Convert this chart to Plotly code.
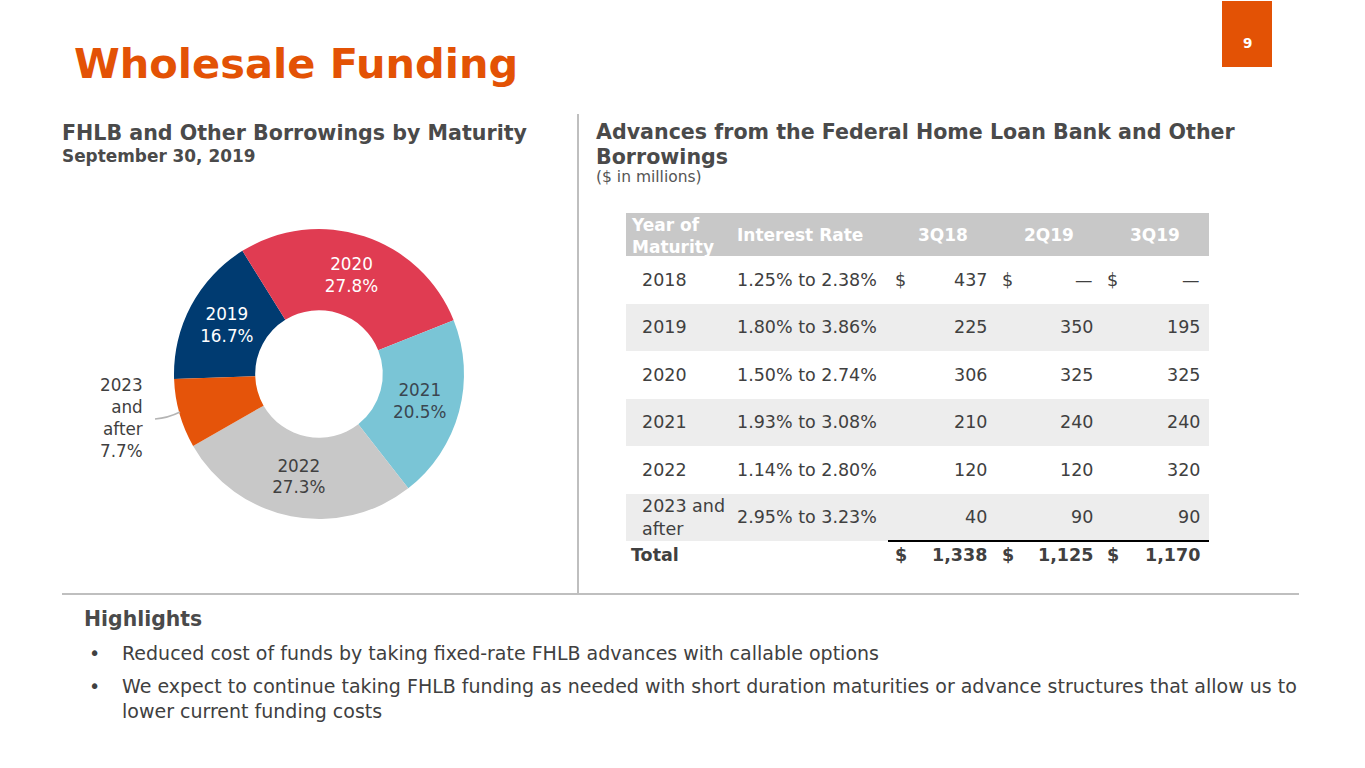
import plotly.graph_objects as go

OFF = 0
W, H = 1365, 768
FONT = "DejaVu Sans"
ORANGE = "#E35205"
DARK = "#4a4a4a"
TEXT = "#404040"

# ---- donut data ----
pie_labels = ["2019", "2020", "2021", "2022", "2023 and after"]
pie_values = [16.7, 27.8, 20.5, 27.3, 7.7]
pie_colors = ["#003B71", "#E03C52", "#7AC5D6", "#C8C8C8", "#E5540A"]
pie_text_colors = ["white", "white", "#3a4650", "#404040", "#404040"]

# ---- table data ----
years = ["2018", "2019", "2020", "2021", "2022", "2023 and<br>after"]
rates = ["1.25% to 2.38%", "1.80% to 3.86%", "1.50% to 2.74%", "1.93% to 3.08%",
         "1.14% to 2.80%", "2.95% to 3.23%"]
quarters = ["3Q18", "2Q19", "3Q19"]
q3_18 = ["437", "225", "306", "210", "120", "40"]
q2_19 = ["—", "350", "325", "240", "120", "90"]
q3_19 = ["—", "195", "325", "240", "320", "90"]
totals = ["1,338", "1,125", "1,170"]
header_year = "Year of<br>Maturity"
header_rate = "Interest Rate"


def px(x):
    return (x - OFF) / W


def py(y):
    return 1 - (y - OFF) / H


fig = go.Figure()

pie_text = ["%s<br>%.1f%%" % (l, v) for l, v in zip(pie_labels, pie_values)]
fig.add_trace(go.Pie(
    labels=pie_labels, values=pie_values, text=pie_text,
    textinfo="text", sort=False, direction="clockwise", rotation=-92,
    hole=0.44,
    marker=dict(colors=pie_colors, line=dict(width=0)),
    textposition=["inside", "inside", "inside", "inside", "none"],
    insidetextorientation="horizontal",
    textfont=dict(family=FONT, size=16.8, color=pie_text_colors),
    domain=dict(x=[px(319 - 145), px(319 + 145)], y=[py(374 + 145), py(374 - 145)]),
    showlegend=False, hoverinfo="skip",
))

# ---- table on its own hidden axes (units: pixels inside the table box) ----
TX0, TX1, TY0 = 626, 1209, 213
HEAD_H, ROW_H, TOTAL_H = 43, 47.5, 48
n = len(years)
table_h = HEAD_H + n * ROW_H + TOTAL_H
row_centers = [HEAD_H + ROW_H * (i + 0.5) for i in range(n)]
total_top = HEAD_H + n * ROW_H

band_y = [HEAD_H / 2] + row_centers
band_w = [HEAD_H] + [ROW_H] * n
band_c = ["#C8C8C8"] + ["white" if i % 2 == 0 else "#EDEDED" for i in range(n)]
fig.add_trace(go.Bar(
    orientation="h", y=band_y, x=[TX1 - TX0] * len(band_y), base=0, width=band_w,
    marker=dict(color=band_c, line=dict(width=0)), xaxis="x", yaxis="y",
    showlegend=False, hoverinfo="skip",
))

# column anchors (pixel offsets from table left)
COL_YEAR, COL_HEAD0, COL_RATE = 17, 6, 112
COL_DOLLAR = [270, 377, 482]
COL_VAL = [360, 466, 573]
COL_QHEAD = [317, 423, 529]

ann = []


def A(x, y, s, size, color=TEXT, bold=False, xanchor="left", ref="paper", align="left"):
    if ref == "paper":
        xx, yy, xr, yr = px(x), py(y), "paper", "paper"
    else:
        xx, yy, xr, yr = x, y, "x", "y"
    ann.append(dict(x=xx, y=yy, xref=xr, yref=yr, text=("<b>%s</b>" % s) if bold else s,
                    showarrow=False, xanchor=xanchor, yanchor="middle", align=align, borderpad=0,
                    font=dict(family=FONT, size=size, color=color)))


HF, DF = 17, 17.5
# header
A(COL_HEAD0 - 2, 22.5, header_year.replace("<br>", "</b><br><b>"), HF, "white", True, ref="ax")
A(COL_RATE - 2, 21.5, header_rate, HF, "white", True, ref="ax")
for q, cx in zip(quarters, COL_QHEAD):
    A(cx, 21.5, q, HF, "white", True, xanchor="center", ref="ax")
# body
cols = [q3_18, q2_19, q3_19]
for i in range(n):
    yc = row_centers[i]
    A(COL_YEAR - 2, yc, years[i], DF, ref="ax")
    A(COL_RATE - 2, yc, rates[i], DF, ref="ax")
    for j, c in enumerate(cols):
        if i == 0:
            A(COL_DOLLAR[j] - 2, yc, "$", DF, ref="ax")
        A(COL_VAL[j] + 2, yc, c[i], DF, xanchor="right", ref="ax")
# total row
ty = total_top + 14
A(COL_HEAD0 - 2, ty, "Total", DF, TEXT, True, ref="ax")
for j, t in enumerate(totals):
    A(COL_DOLLAR[j] - 2, ty, "$", DF, TEXT, True, ref="ax")
    A(COL_VAL[j] + 2, ty, t, DF, TEXT, True, xanchor="right", ref="ax")

# pie outside label for last slice
A(144, 418, "2023<br>and<br>after<br>%.1f%%" % pie_values[-1], 16.8, TEXT, xanchor="right", align="right")

shapes = [
    dict(type="line", xref="paper", yref="paper", x0=px(578), x1=px(578), y0=py(114), y1=py(593),
         line=dict(color="#BFBFBF", width=2)),
    dict(type="line", xref="paper", yref="paper", x0=px(62), x1=px(1299), y0=py(594), y1=py(594),
         line=dict(color="#BFBFBF", width=2)),
    dict(type="line", xref="x", yref="y", x0=888 - TX0, x1=TX1 - TX0, y0=total_top, y1=total_top,
         line=dict(color="black", width=2)),
    dict(type="rect", xref="paper", yref="paper", x0=px(1222), x1=px(1272), y0=py(67), y1=py(1),
         fillcolor=ORANGE, line=dict(width=0)),
    dict(type="path", xref="paper", yref="paper",
         path="M %f,%f Q %f,%f %f,%f" % (px(155), py(419), px(168), py(418), px(180), py(412)),
         line=dict(color="#B4B4B4", width=1.5)),
]

A(73, 63, "Wholesale Funding", 41.5, ORANGE, bold=True)
A(1247, 43, "9", 13.5, "white", bold=True, xanchor="center")
A(61, 133, "FHLB and Other Borrowings by Maturity", 20.6, DARK, bold=True)
A(61, 156, "September 30, 2019", 16.9, DARK, bold=True)
A(595, 132, "Advances from the Federal Home Loan Bank and Other", 20.6, DARK, bold=True)
A(595, 157, "Borrowings", 20.6, DARK, bold=True)
A(595, 177, "($ in millions)", 15.5, "#555555")
A(83, 619, "Highlights", 20.4, DARK, bold=True)
A(88, 653, "•", 19, TEXT)
A(121, 653, "Reduced cost of funds by taking fixed-rate FHLB advances with callable options", 19, TEXT)
A(88, 686, "•", 19, TEXT)
A(121, 686, "We expect to continue taking FHLB funding as needed with short duration maturities or advance structures that allow us to", 19, TEXT)
A(121, 711, "lower current funding costs", 19, TEXT)

fig.update_layout(
    width=W, height=H, margin=dict(l=0, r=0, t=0, b=0),
    paper_bgcolor="white", plot_bgcolor="rgba(0,0,0,0)",
    xaxis=dict(domain=[px(TX0), px(TX1)], range=[0, TX1 - TX0], visible=False, fixedrange=True),
    yaxis=dict(domain=[py(TY0 + table_h), py(TY0)], range=[table_h, 0], visible=False, fixedrange=True),
    bargap=0, shapes=shapes, annotations=ann, hovermode=False,
)

fig.write_html("out.html", config={"displayModeBar": False},
               post_script="document.body.style.margin='0';document.body.style.overflow='hidden';")
